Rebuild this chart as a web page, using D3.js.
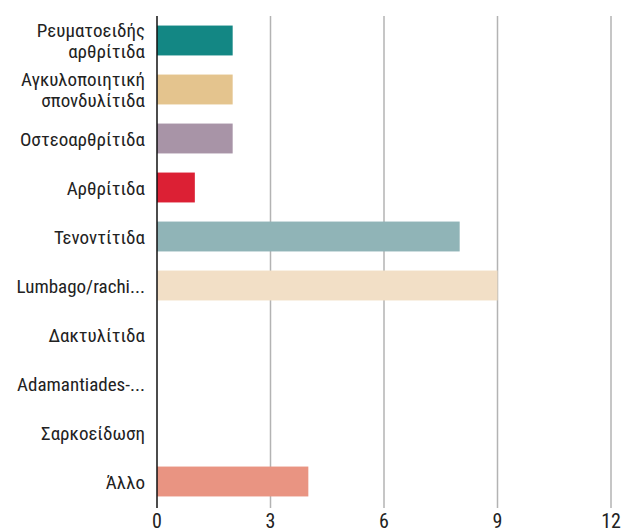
<!DOCTYPE html>
<html><head><meta charset="utf-8">
<script src="https://cdn.jsdelivr.net/npm/d3@7"></script>
<style>
body{margin:0;background:#fff;}
text{font-family:"Liberation Sans Narrow","Roboto Condensed","DejaVu Sans Condensed",sans-serif;fill:#222;}
</style></head>
<body><svg id="c" width="624" height="532"></svg>
<script>
const categories = [["Ρευματοειδής","αρθρίτιδα"],["Αγκυλοποιητική","σπονδυλίτιδα"],["Οστεοαρθρίτιδα"],["Αρθρίτιδα"],["Τενοντίτιδα"],["Lumbago/rachi..."],["Δακτυλίτιδα"],["Adamantiades-..."],["Σαρκοείδωση"],["Άλλο"]];
const values = [2,2,2,1,8,9,0,0,0,4];
const colors = ["#138784","#E4C48E","#A894A7","#DC2034","#90B4B7","#F2DFC6","#ccc","#ccc","#ccc","#E99482"];
const ticks = [0,3,6,9,12];

const svg = d3.select("#c");
const x = d3.scaleLinear().domain([0,12]).range([157,611]);
const y = d3.scaleBand().domain(d3.range(categories.length)).range([16,506]).paddingInner(0.39).paddingOuter(0.195);

// grid
svg.append("g").selectAll("line").data(ticks.slice(1)).join("line")
  .attr("x1",d=>x(d)).attr("x2",d=>x(d)).attr("y1",16).attr("y2",508)
  .attr("stroke","#b3b3b3").attr("stroke-width",1.5);

// bars
svg.append("g").selectAll("rect").data(values).join("rect")
  .attr("x",x(0)).attr("y",(d,i)=>y(i)).attr("height",y.bandwidth())
  .attr("width",d=>x(d)-x(0)).attr("fill",(d,i)=>colors[i]);

// axis line
svg.append("line").attr("x1",x(0)).attr("x2",x(0)).attr("y1",16).attr("y2",508)
  .attr("stroke","#111").attr("stroke-width",1.5);

// tick labels
svg.append("g").selectAll("text").data(ticks).join("text")
  .attr("x",d=>x(d)).attr("y",528).attr("text-anchor","middle")
  .attr("font-size",20).text(d=>d);

// category labels
const lab = svg.append("g").selectAll("text").data(categories).join("text")
  .attr("text-anchor","end").attr("font-size",19)
  .attr("transform",(d,i)=>`translate(145,${y(i)+y.bandwidth()/2})`);
lab.each(function(d){
  const t=d3.select(this);
  const n=d.length, lh=21;
  d.forEach((s,k)=>{
    t.append("tspan").attr("x",0).attr("y",(k-(n-1)/2)*lh+7).text(s);
  });
});
</script></body></html>
